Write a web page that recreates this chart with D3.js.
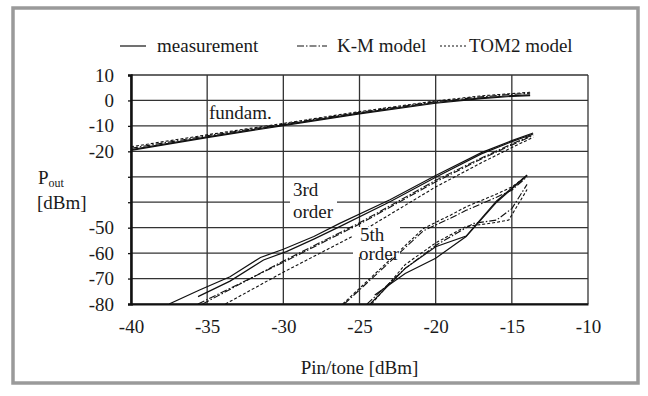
<!DOCTYPE html>
<html><head><meta charset="utf-8">
<script src="https://cdn.jsdelivr.net/npm/d3@7"></script>
<style>
html,body{margin:0;padding:0;background:#fff;}
svg text{font-family:"Liberation Serif","Times New Roman","DejaVu Serif",serif;fill:#1a1a1a;}
</style></head>
<body>
<svg id="chart" width="648" height="396"></svg>
<script>
// ---- data ----
const xTicks = [-40, -35, -30, -25, -20, -15, -10];
const xTickLabels = ["-40", "-35", "-30", "-25", "-20", "-15", "-10"];
const yTicks = [10, 0, -10, -20, -30, -40, -50, -60, -70, -80];
const yTickLabels = ["10", "0", "-10", "-20", "", "", "-50", "-60", "-70", "-80"];
const legendLabels = ["measurement", "K-M model", "TOM2 model"];

// fundamental
const fundMeasA = [[-40,-19.6],[-35,-14.6],[-30,-9.9],[-25,-5.3],[-20,-1.1],[-17,0.7],[-15,1.6],[-13.8,1.9]];
const fundMeasB = [[-40,-19.3],[-35,-14.3],[-30,-9.6],[-25,-5.0],[-20,-0.8],[-17,1.0],[-15,1.9],[-13.8,2.2]];
const fundKM    = [[-40,-18.8],[-35,-13.9],[-30,-9.3],[-25,-4.7],[-20,-0.5],[-17,1.4],[-15,2.4],[-13.8,2.8]];
const fundTOM2  = [[-40,-18.2],[-35,-13.5],[-30,-9.0],[-25,-4.4],[-20,-0.2],[-17,1.8],[-15,2.7],[-13.8,3.2]];
// 3rd order
const m3A  = [[-37.5,-80],[-35.5,-74.5],[-33.5,-69.3],[-31.5,-61.7],[-30,-58.5],[-28,-53.5],[-26.3,-48.3],[-23,-39],[-20,-29.5],[-17,-20.5],[-15,-15.8],[-13.6,-12.8]];
const m3B  = [[-35.6,-77.1],[-33.5,-71],[-31.3,-62.7],[-29.8,-59.4],[-28,-54.5],[-26.3,-49.6],[-23,-39.8],[-20,-30.2],[-17,-21],[-15,-16.2],[-13.6,-13.2]];
const km3A = [[-35.6,-80],[-30,-63.6],[-25,-48.6],[-20,-32],[-17,-23],[-15,-17.5],[-13.6,-13.8]];
const km3B = [[-35.3,-80],[-30,-63.1],[-25,-48.1],[-20,-31.4],[-17,-22.6],[-15,-17.1],[-13.6,-13.5]];
const tom3 = [[-33.8,-80],[-30,-67.5],[-25,-52],[-20,-34],[-17,-24.5],[-15,-18.5],[-13.6,-14.5]];
// 5th order
const m5A   = [[-24.3,-80],[-22,-66],[-20,-57.5],[-18,-53.3],[-16,-39.5],[-14,-29.3]];
const m5B   = [[-24,-76.5],[-22,-68],[-20,-62],[-18,-53.5],[-16,-40],[-14,-29.5]];
const km5A  = [[-26,-80],[-20.8,-51.2],[-19,-46.2],[-18,-43.2],[-16,-38],[-15,-35.3],[-14,-30]];
const tom5A = [[-26.1,-80],[-20.8,-50.3],[-19,-45],[-18,-41.8],[-16,-36.8],[-15,-34],[-14,-29.5]];
const km5B  = [[-24.5,-80],[-22,-66],[-20,-57],[-17.5,-48.3],[-16,-47],[-15,-42.5],[-14,-33]];
const tom5B = [[-24.2,-80],[-22,-64.5],[-20,-56],[-18,-49.5],[-16.3,-48.2],[-15.2,-47],[-14,-35]];

// ---- layout ----
const L = 131, R = 588, T = 75, B = 304;
const FS = 19;
const svg = d3.select("#chart");

svg.append("rect").attr("x", 13).attr("y", 8).attr("width", 625).attr("height", 375)
  .attr("fill", "#fff").attr("stroke", "#9a9a9a").attr("stroke-width", 3.5);

const x = d3.scaleLinear().domain([-40, -10]).range([L, R]);
const y = d3.scaleLinear().domain([-80, 10]).range([B, T]);

// grid
const g = svg.append("g");
g.selectAll("line.vg").data(xTicks).join("line")
  .attr("x1", d => x(d)).attr("x2", d => x(d)).attr("y1", T).attr("y2", B)
  .attr("stroke", "#333").attr("stroke-width", 1.3);
g.selectAll("line.hg").data(yTicks).join("line")
  .attr("x1", L).attr("x2", R).attr("y1", d => y(d)).attr("y2", d => y(d))
  .attr("stroke", "#333").attr("stroke-width", 1.3);

// axes
const yAxis = d3.axisLeft(y).tickValues(yTicks).tickSize(3).tickPadding(14)
  .tickFormat((d, i) => yTickLabels[i]);
const ya = svg.append("g").attr("transform", `translate(${L},0)`).call(yAxis);
ya.select(".domain").attr("stroke", "#111").attr("stroke-width", 2.5);
ya.selectAll(".tick line").attr("stroke", "#111").attr("stroke-width", 1.3);
ya.selectAll(".tick text").attr("font-size", FS).attr("fill", "#1a1a1a");

const xAxis = d3.axisBottom(x).tickValues(xTicks).tickSize(0).tickPadding(16)
  .tickFormat((d, i) => xTickLabels[i]);
const xa = svg.append("g").attr("transform", `translate(0,${B})`).call(xAxis);
xa.select(".domain").attr("stroke", "#111").attr("stroke-width", 2);
xa.selectAll(".tick text").attr("font-size", FS).attr("fill", "#1a1a1a");

// clip
svg.append("clipPath").attr("id", "clip").append("rect")
  .attr("x", L).attr("y", T).attr("width", R - L).attr("height", B - T);

const line = d3.line().x(d => x(d[0])).y(d => y(d[1]));
const styles = {
  meas: {dash: null, w: 1.2},
  km:   {dash: "7,2,1.5,2", w: 1.1},
  tom:  {dash: "3,2", w: 1.1}
};
const series = [
  [fundKM, "km"], [fundTOM2, "tom"], [fundMeasA, "meas"], [fundMeasB, "meas"],
  [km3A, "km"], [km3B, "km"], [tom3, "tom"], [m3A, "meas"], [m3B, "meas"],
  [km5A, "km"], [tom5A, "tom"], [km5B, "km"], [tom5B, "tom"], [m5A, "meas"], [m5B, "meas"]
];
const pg = svg.append("g").attr("clip-path", "url(#clip)");
series.forEach(([data, k]) => {
  pg.append("path").attr("d", line(data)).attr("fill", "none")
    .attr("stroke", "#111").attr("stroke-width", styles[k].w)
    .attr("stroke-dasharray", styles[k].dash);
});

// annotations
svg.append("rect").attr("x", 290).attr("y", 180).attr("width", 47).attr("height", 43).attr("fill", "#fff");
svg.append("rect").attr("x", 353).attr("y", 227).attr("width", 47).attr("height", 30).attr("fill", "#fff");
const ann = [["fundam.", 209, 119], ["3rd", 293, 196], ["order", 293, 218], ["5th", 360, 241], ["order", 359, 260]];
svg.selectAll("text.ann").data(ann).join("text").attr("class", "ann")
  .attr("x", d => d[1]).attr("y", d => d[2]).attr("font-size", FS).text(d => d[0]);

// y title
const yt = svg.append("text").attr("x", 38).attr("y", 184).attr("font-size", FS);
yt.append("tspan").text("P");
yt.append("tspan").attr("dy", 3).attr("font-size", 12).text("out");
svg.append("text").attr("x", 37).attr("y", 209).attr("font-size", FS).text("[dBm]");

// x title
svg.append("text").attr("x", (L + R) / 2).attr("y", 374).attr("text-anchor", "middle")
  .attr("font-size", FS).text("Pin/tone [dBm]");

// legend
const legX = [[120, 146, 157], [297, 327, 337], [440, 466, 469]];
const legKeys = ["meas", "km", "tom"];
const lg = svg.append("g");
legKeys.forEach((k, i) => {
  lg.append("line").attr("x1", legX[i][0]).attr("x2", legX[i][1]).attr("y1", 46).attr("y2", 46)
    .attr("stroke", "#111").attr("stroke-width", 1.2)
    .attr("stroke-dasharray", k === "tom" ? "2,2" : styles[k].dash);
  lg.append("text").attr("x", legX[i][2]).attr("y", 52).attr("font-size", FS).text(legendLabels[i]);
});
</script>
</body></html>
